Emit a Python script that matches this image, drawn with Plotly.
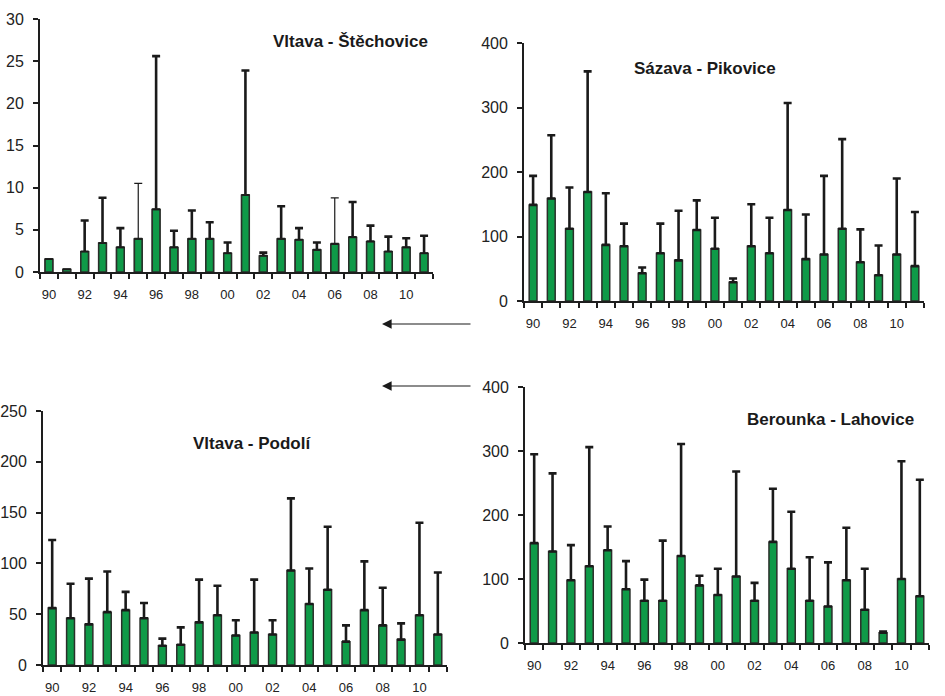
import plotly.graph_objects as go

years = ["1990", "1991", "1992", "1993", "1994", "1995", "1996", "1997", "1998", "1999", "2000",
         "2001", "2002", "2003", "2004", "2005", "2006", "2007", "2008", "2009", "2010", "2011"]
tick_labels = ["90", "", "92", "", "94", "", "96", "", "98", "", "00",
               "", "02", "", "04", "", "06", "", "08", "", "10", ""]

# Vltava - Štěchovice: mean and upper value
stech_mean = [1.5, 0.3, 2.4, 3.4, 2.9, 3.9, 7.4, 2.9, 3.9, 3.9, 2.2,
              9.1, 1.9, 3.9, 3.8, 2.6, 3.3, 4.1, 3.6, 2.4, 2.9, 2.2]
stech_max = [None, None, 6.1, 8.8, 5.2, 10.5, 25.6, 4.9, 7.3, 5.9, 3.5,
             23.9, 2.3, 7.8, 5.2, 3.5, 8.8, 8.3, 5.5, 4.2, 4.0, 4.3]

# Sázava - Pikovice
sazava_mean = [149, 159, 112, 169, 87, 85, 43, 74, 63, 110, 81,
               29, 85, 74, 141, 65, 72, 112, 60, 40, 72, 54]
sazava_max = [194, 257, 176, 356, 167, 120, 52, 120, 140, 156, 129,
              35, 150, 129, 307, 134, 194, 251, 111, 86, 190, 138]

# Vltava - Podolí
podoli_mean = [56, 46, 40, 52, 54, 46, 19, 20, 42, 49, 29,
               32, 30, 93, 60, 74, 23, 54, 39, 25, 49, 30]
podoli_max = [123, 80, 85, 92, 72, 61, 26, 37, 84, 78, 44,
              84, 44, 164, 95, 136, 39, 102, 76, 41, 140, 91]

# Berounka - Lahovice
beroun_mean = [156, 143, 98, 120, 145, 84, 66, 66, 136, 90, 75,
               104, 66, 158, 116, 66, 57, 98, 52, 16, 100, 73]
beroun_max = [295, 265, 153, 306, 182, 128, 99, 160, 311, 105, 116,
              268, 94, 241, 205, 134, 126, 180, 116, 18, 284, 255]

# years whose error whisker is drawn with a thin line (Štěchovice panel)
thin_whisker_years = ["1995", "2006"]

panels = [
    ("Vltava - Štěchovice", stech_mean, stech_max, [0, 30], 5, thin_whisker_years),
    ("Sázava - Pikovice", sazava_mean, sazava_max, [0, 400], 100, []),
    ("Vltava - Podolí", podoli_mean, podoli_max, [0, 250], 50, []),
    ("Berounka - Lahovice", beroun_mean, beroun_max, [0, 400], 100, []),
]

W, H = 945, 696
# pixel boxes: (x0, x1, ytop, ybottom)
boxes = [(40, 433, 19, 272), (524, 924, 43, 301), (43, 447, 411, 665), (525, 929, 387, 643)]
title_pos = [(350, 41), (705, 68), (252, 443), (830, 419)]

FONT = "Liberation Sans, Arial, sans-serif"
AX = "#1e1e1e"
BAR_FILL = "#0f9a48"
BAR_LINE = "#2a2f2a"

fig = go.Figure()
annotations = []
for i, (name, mean, mx, yr, dt, thin) in enumerate(panels):
    n = "" if i == 0 else str(i + 1)
    err = []
    err_thin = []
    for yv, v, m in zip(years, mean, mx):
        e = None if m is None else round(m - v, 3)
        if yv in thin:
            err.append(None)
            err_thin.append(e)
        else:
            err.append(e)
            err_thin.append(None)
    fig.add_trace(go.Bar(
        x=years, y=mean, xaxis="x" + n, yaxis="y" + n,
        marker=dict(color=BAR_FILL, line=dict(color=BAR_LINE, width=1.5)),
        error_y=dict(type="data", symmetric=False, array=err,
                     arrayminus=[0 if e is not None else None for e in err],
                     color="#1a1a1a", thickness=2.6, width=4),
        showlegend=False, hoverinfo="x+y",
    ))
    if thin:
        fig.add_trace(go.Bar(
            x=years, y=mean, xaxis="x" + n, yaxis="y" + n,
            marker=dict(color=BAR_FILL, line=dict(color=BAR_LINE, width=1.5)),
            error_y=dict(type="data", symmetric=False, array=err_thin,
                         arrayminus=[0 if e is not None else None for e in err_thin],
                         color="#1a1a1a", thickness=1.2, width=4),
            showlegend=False, hoverinfo="skip",
        ))
    x0, x1, yt, yb = boxes[i]
    fig.update_layout(**{
        "xaxis" + n: dict(
            domain=[x0 / W, x1 / W], anchor="y" + n, type="category",
            categoryorder="array", categoryarray=years,
            tickmode="array", tickvals=years, ticktext=tick_labels,
            tickson="boundaries", ticks="outside", ticklen=5, tickwidth=1.5,
            tickcolor=AX, showline=True, linecolor=AX, linewidth=1.8,
            showgrid=False, zeroline=False, range=[-0.5, 21.5],
            tickfont=dict(family=FONT, size=13, color="#222"), tickangle=0,
            ticklabelstandoff=9, automargin=False,
        ),
        "yaxis" + n: dict(
            domain=[1 - yb / H, 1 - yt / H], anchor="x" + n, range=yr, dtick=dt,
            ticks="outside", ticklen=5, tickwidth=1.5, tickcolor=AX,
            showline=True, linecolor=AX, linewidth=1.8, showgrid=False,
            zeroline=False, tickfont=dict(family=FONT, size=16, color="#222"),
            ticklabelstandoff=6, automargin=False,
        ),
    })
    tx, ty = title_pos[i]
    annotations.append(dict(
        x=tx / W, y=1 - ty / H, xref="paper", yref="paper", showarrow=False,
        text="<b>" + name + "</b>", xanchor="center", yanchor="middle",
        font=dict(family=FONT, size=17, color="#1a1a1a"),
    ))

for ay_px in (324, 386):
    annotations.append(dict(
        x=382 / W, y=1 - ay_px / H, xref="paper", yref="paper",
        ax=90, ay=0, axref="pixel", ayref="pixel", text="",
        showarrow=True, arrowhead=2, arrowsize=1.6, arrowwidth=1.2,
        arrowcolor="#1a1a1a",
    ))

fig.update_layout(
    width=W, height=H, margin=dict(l=0, r=0, t=0, b=0),
    paper_bgcolor="white", plot_bgcolor="white",
    bargap=0.57, barmode="overlay", annotations=annotations,
    font=dict(family=FONT, color="#222"),
)

fig.write_html("out.html")
